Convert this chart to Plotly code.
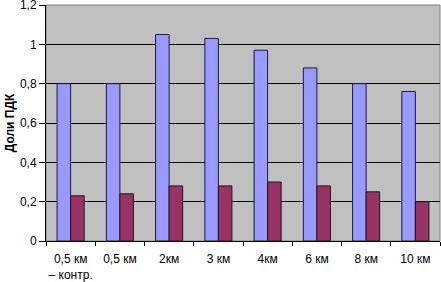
import plotly.graph_objects as go

categories = ["0,5 км<br>– контр.", "0,5 км", "2км", "3 км", "4км", "6 км", "8 км", "10 км"]
series_a = [0.80, 0.80, 1.05, 1.03, 0.97, 0.88, 0.80, 0.76]
series_b = [0.23, 0.24, 0.28, 0.28, 0.30, 0.28, 0.25, 0.20]
y_ticks = [0, 0.2, 0.4, 0.6, 0.8, 1.0, 1.2]

fig = go.Figure()
fig.add_trace(go.Bar(x=categories, y=series_a, marker=dict(color="#9999FF", line=dict(color="#1a1a40", width=1))))
fig.add_trace(go.Bar(x=categories, y=series_b, marker=dict(color="#993366", line=dict(color="#1a1a1a", width=1))))

fig.update_layout(
    width=441, height=282,
    margin=dict(l=46, r=1, t=5, b=41),
    paper_bgcolor="white", plot_bgcolor="#C0C0C0",
    showlegend=False, barmode="group", bargap=0.45, bargroupgap=0,
    separators=", ",
    font=dict(family="Liberation Sans, Arial, sans-serif", size=12, color="black"),
    shapes=[dict(type="rect", xref="paper", yref="paper", x0=0, x1=1, y0=0, y1=1,
                 line=dict(color="#808080", width=1), layer="below")],
)
fig.update_xaxes(showline=True, linecolor="black", linewidth=1, ticks="outside", ticklen=4,
                 tickcolor="black", tickson="boundaries", showgrid=False, tickangle=0,
                 automargin=False, tickfont=dict(size=12), ticklabelstandoff=7)
fig.update_yaxes(range=[0, 1.2], tickvals=y_ticks, showline=True, linecolor="black", linewidth=1,
                 ticks="outside", ticklen=6, tickcolor="black", showgrid=True, gridcolor="black",
                 gridwidth=1, zeroline=False, automargin=False, ticklabeloverflow="allow",
                 title=dict(text="<b>Доли ПДК</b>", font=dict(size=12), standoff=2))

fig.write_html("out.html", config={"displayModeBar": False},
               post_script="document.body.style.margin='0';document.body.style.overflow='hidden';")
